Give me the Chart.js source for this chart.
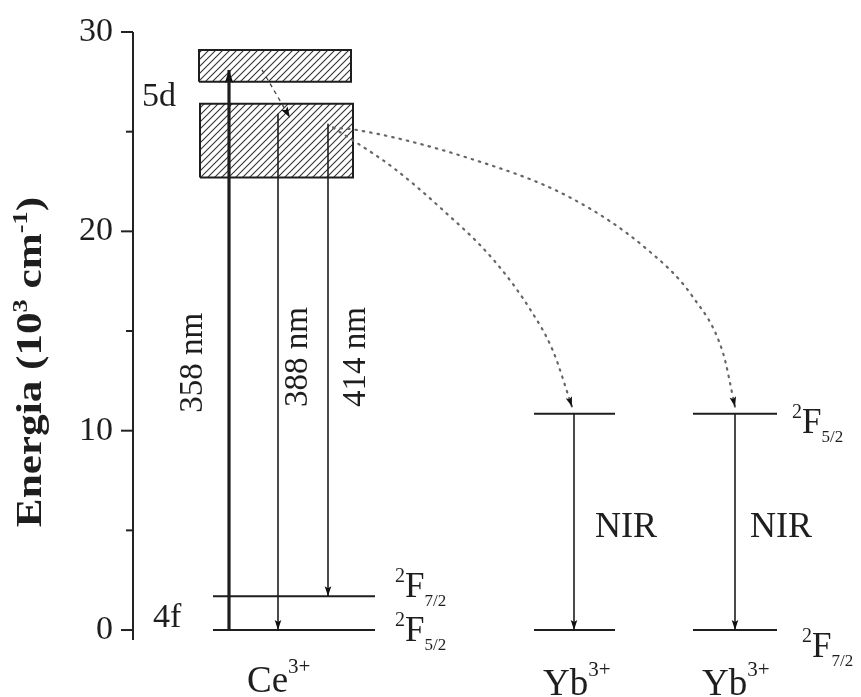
<!DOCTYPE html>
<html>
<head>
<meta charset="utf-8">
<script src="https://cdn.jsdelivr.net/npm/chart.js@4.4.1/dist/chart.umd.min.js"></script>
<style>
  html, body { margin: 0; padding: 0; background: #fff; }
  #wrap { width: 861px; height: 697px; }
</style>
</head>
<body>
<div id="wrap"><canvas id="c"></canvas></div>
<script>
// energies in 10^3 cm^-1, x in arbitrary diagram units
const yTicks = [0, 5, 10, 15, 20, 25, 30];
const yTickLabels = ['0', '', '10', '', '20', '', '30'];

const ceLevels = [0, 1.7];        // 2F5/2, 2F7/2
const ybLevels = [0, 10.85];      // 2F7/2, 2F5/2
const band5dUpper = [27.5, 29.1];
const band5dLower = [22.7, 26.4];

const ceSpan = [8.0, 24.2];
const yb1Span = [40.1, 48.2];
const yb2Span = [56.0, 64.4];
const bandUpperSpan = [6.6, 21.8];
const bandLowerSpan = [6.7, 22.0];

// transitions: [x, yFrom, yTo]
const exc358 = [9.6, 0, 28.1];
const em388 = [14.5, 25.9, 0];
const em414 = [19.5, 25.4, 1.7];
const nirA = [44.1, 10.85, 0];
const nirB = [60.2, 10.85, 0];
const relax = [[12.9, 28.1], [15.7, 25.7]];

// Ce -> Yb energy transfer (dotted)
const transferA = [[20.0, 25.2], [22.2, 24.5], [26.0, 23.2], [30.7, 21.2], [36.0, 18.6], [39.7, 16.1], [42.0, 14.0], [43.9, 11.2]];
const transferB = [[20.0, 25.2], [22.2, 25.1], [33.4, 23.7], [43.7, 21.7], [51.4, 19.1], [56.0, 16.7], [59.0, 13.9], [60.2, 11.2]];

const SERIF = "'Liberation Serif', 'Times New Roman', serif";
const INK = '#1e1e1e';

function pts(arr) { return arr.map(p => ({x: p[0], y: p[1]})); }
function vline(t) { return [{x: t[0], y: t[1]}, {x: t[0], y: t[2]}]; }
function hline(span, y) { return [{x: span[0], y: y}, {x: span[1], y: y}]; }
function box(span, yr) {
    return [{x: span[0], y: yr[0]}, {x: span[1], y: yr[0]}, {x: span[1], y: yr[1]},
            {x: span[0], y: yr[1]}, {x: span[0], y: yr[0]}];
}

function hatchPattern() {
    let s = 7;
    let p = document.createElement('canvas');
    p.width = s; p.height = s;
    let g = p.getContext('2d');
    g.fillStyle = '#fff';
    g.fillRect(0, 0, s, s);
    g.strokeStyle = '#333';
    g.lineWidth = 1.1;
    g.beginPath();
    g.moveTo(-1, s + 1); g.lineTo(s + 1, -1);
    g.moveTo(-2, 2); g.lineTo(2, -2);
    g.moveTo(s - 2, s + 2); g.lineTo(s + 2, s - 2);
    g.stroke();
    return document.getElementById('c').getContext('2d').createPattern(p, 'repeat');
}

function lineDs(data, extra) {
    return Object.assign({
        type: 'line', data: data, borderColor: INK, borderWidth: 1.6,
        pointRadius: 0, fill: false, tension: 0
    }, extra || {});
}

const hatch = hatchPattern();

const datasets = [
    lineDs(vline(exc358), {borderWidth: 3.2, arrow: 13}),
    lineDs(vline(em388), {arrow: 10}),
    lineDs(vline(em414), {arrow: 10}),
    lineDs(vline(nirA), {arrow: 10}),
    lineDs(vline(nirB), {arrow: 10}),
    lineDs(pts(relax), {borderDash: [4, 4], borderWidth: 1.3, borderColor: '#444', arrow: 11}),
    lineDs(pts(transferA), {borderDash: [1.5, 6], borderCapStyle: 'round', borderWidth: 2.2, borderColor: '#666', tension: 0.4, cubicInterpolationMode: 'monotone', arrow: 10}),
    lineDs(pts(transferB), {borderDash: [1.5, 6], borderCapStyle: 'round', borderWidth: 2.2, borderColor: '#666', tension: 0.4, cubicInterpolationMode: 'monotone', arrow: 10}),
    lineDs(hline(ceSpan, ceLevels[0]), {borderWidth: 2}),
    lineDs(hline(ceSpan, ceLevels[1]), {borderWidth: 2}),
    lineDs(hline(yb1Span, ybLevels[0]), {borderWidth: 2}),
    lineDs(hline(yb1Span, ybLevels[1]), {borderWidth: 2}),
    lineDs(hline(yb2Span, ybLevels[0]), {borderWidth: 2}),
    lineDs(hline(yb2Span, ybLevels[1]), {borderWidth: 2}),
    lineDs(box(bandUpperSpan, band5dUpper), {borderWidth: 2, fill: 'shape', backgroundColor: hatch}),
    lineDs(box(bandLowerSpan, band5dLower), {borderWidth: 2, fill: 'shape', backgroundColor: hatch})
];

// label anchors (data units); parts: [text, size, dy]
const labels = [
    {x: 0.9, y: 26.3, parts: [['5d', 34, 0]]},
    {x: 2.0, y: 0.15, parts: [['4f', 34, 0]]},
    {x: 26.2, y: 1.65, parts: [['2', 20, -15], ['F', 35, 0], ['7/2', 17, 9]]},
    {x: 26.2, y: -0.55, parts: [['2', 20, -15], ['F', 35, 0], ['5/2', 17, 9]]},
    {x: 65.9, y: 9.88, parts: [['2', 20, -15], ['F', 35, 0], ['5/2', 17, 9]]},
    {x: 66.9, y: -1.35, parts: [['2', 20, -15], ['F', 35, 0], ['7/2', 17, 9]]},
    {x: 11.4, y: -3.1, parts: [['Ce', 37, 0], ['3+', 21, -19]]},
    {x: 41.0, y: -3.25, parts: [['Yb', 37, 0], ['3+', 21, -19]]},
    {x: 56.9, y: -3.25, parts: [['Yb', 37, 0], ['3+', 21, -19]]},
    {x: 46.2, y: 4.67, parts: [['NIR', 36, 0]]},
    {x: 61.7, y: 4.67, parts: [['NIR', 36, 0]]}
];
// rotated labels: x is the baseline (right side of the glyphs)
const rotLabels = [
    {x: 6.9, y: 13.4, text: '358 nm'},
    {x: 17.4, y: 13.7, text: '388 nm'},
    {x: 23.2, y: 13.7, text: '414 nm'}
];

function drawParts(ctx, parts, x, y, bold) {
    let cx = x;
    parts.forEach(p => {
        ctx.font = (bold ? 'bold ' : '') + p[1] + 'px ' + SERIF;
        ctx.fillText(p[0], cx, y + p[2]);
        cx += ctx.measureText(p[0]).width;
    });
}

const decor = {
    id: 'decor',
    afterDatasetsDraw(chart) {
        const ctx = chart.ctx;
        const xs = chart.scales.x, ys = chart.scales.y;
        const area = chart.chartArea;

        // arrowheads at the end of flagged datasets
        chart.data.datasets.forEach((ds, i) => {
            if (!ds.arrow) return;
            const pts = chart.getDatasetMeta(i).data;
            const end = pts[pts.length - 1];
            let fx = pts[pts.length - 2].x, fy = pts[pts.length - 2].y;
            if (end.cp1x !== undefined && ds.tension) { fx = end.cp1x; fy = end.cp1y; }
            const ang = Math.atan2(end.y - fy, end.x - fx);
            const len = ds.arrow, w = ds.arrow * 0.33;
            ctx.save();
            ctx.translate(end.x, end.y);
            ctx.rotate(ang);
            ctx.fillStyle = '#111';
            ctx.beginPath();
            ctx.moveTo(0, 0);
            ctx.lineTo(-len, -w);
            ctx.lineTo(-len * 0.8, 0);
            ctx.lineTo(-len, w);
            ctx.closePath();
            ctx.fill();
            ctx.restore();
        });

        ctx.save();
        // y axis line and ticks
        ctx.strokeStyle = '#222';
        ctx.lineWidth = 2;
        ctx.beginPath();
        ctx.moveTo(area.left, ys.getPixelForValue(30));
        ctx.lineTo(area.left, area.bottom);
        ctx.stroke();
        ctx.fillStyle = INK;
        ctx.textAlign = 'right';
        ctx.textBaseline = 'middle';
        ctx.font = '34px ' + SERIF;
        yTicks.forEach((v, i) => {
            const py = ys.getPixelForValue(v);
            const major = yTickLabels[i] !== '';
            ctx.beginPath();
            ctx.moveTo(area.left - (major ? 12 : 7), py);
            ctx.lineTo(area.left, py);
            ctx.stroke();
            if (major) ctx.fillText(yTickLabels[i], area.left - 20, py);
        });

        // axis title
        ctx.save();
        ctx.translate(41, 362);
        ctx.rotate(-Math.PI / 2);
        ctx.textAlign = 'left';
        ctx.textBaseline = 'alphabetic';
        const title = [['Energia (10', 36, 0], ['3', 22, -14], [' cm', 36, 0], ['-1', 22, -14], [')', 36, 0]];
        let tw = 0;
        title.forEach(p => { ctx.font = 'bold ' + p[1] + 'px ' + SERIF; tw += ctx.measureText(p[0]).width; });
        ctx.scale(1.2, 1);
        drawParts(ctx, title, -tw / 2, 0, true);
        ctx.restore();

        // annotations
        ctx.textAlign = 'left';
        ctx.textBaseline = 'alphabetic';
        labels.forEach(l => drawParts(ctx, l.parts, xs.getPixelForValue(l.x), ys.getPixelForValue(l.y), false));
        ctx.font = '33px ' + SERIF;
        ctx.textAlign = 'center';
        ctx.textBaseline = 'alphabetic';
        rotLabels.forEach(l => {
            ctx.save();
            ctx.translate(xs.getPixelForValue(l.x), ys.getPixelForValue(l.y));
            ctx.rotate(-Math.PI / 2);
            ctx.fillText(l.text, 0, 0);
            ctx.restore();
        });
        ctx.restore();
    }
};

new Chart(document.getElementById('c'), {
    type: 'line',
    data: {datasets: datasets},
    options: {
        responsive: true,
        maintainAspectRatio: false,
        animation: false,
        layout: {padding: {left: 133, top: 32, right: 8, bottom: 57}},
        plugins: {legend: {display: false}, tooltip: {enabled: false}},
        scales: {
            x: {type: 'linear', min: 0, max: 72, display: false},
            y: {type: 'linear', min: -0.5, max: 30, display: false}
        }
    },
    plugins: [decor]
});
</script>
</body>
</html>
